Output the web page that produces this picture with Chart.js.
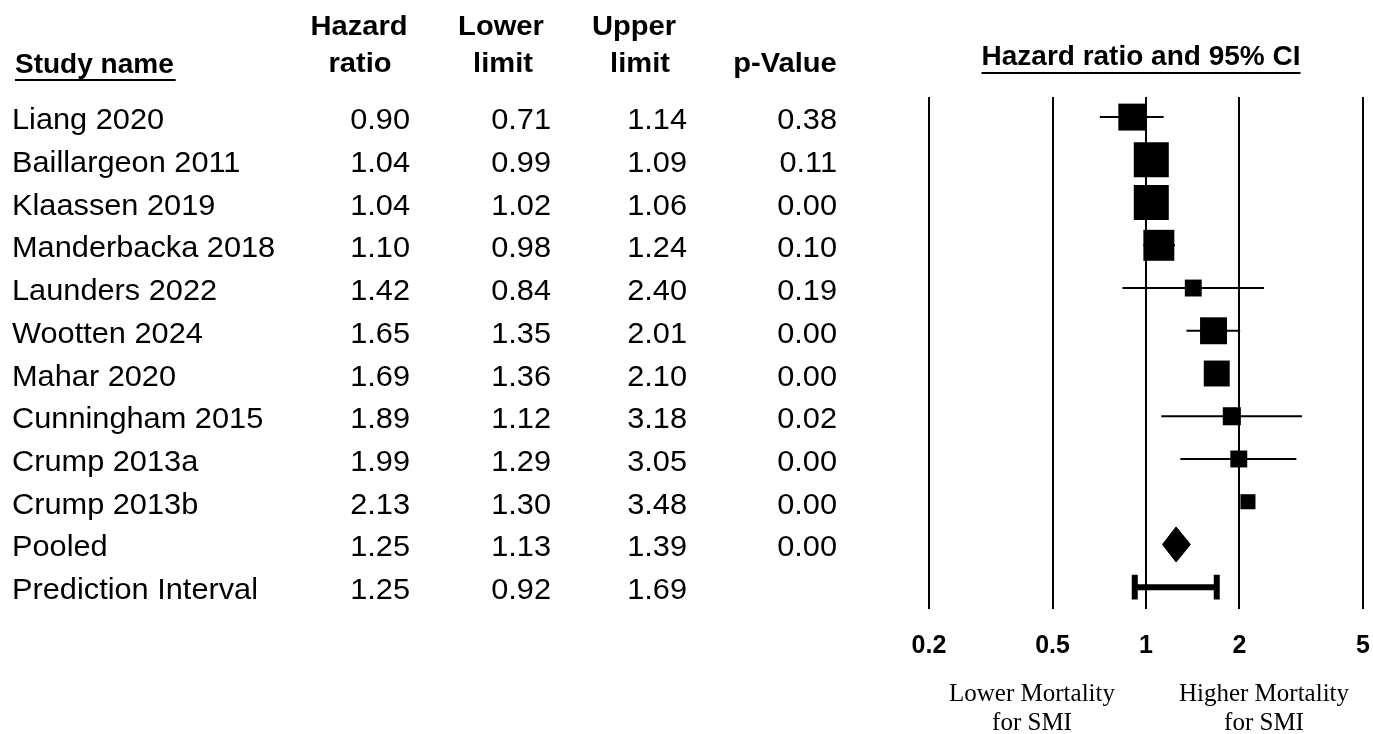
<!DOCTYPE html>
<html>
<head>
<meta charset="utf-8">
<title>Hazard ratio and 95% CI</title>
<script src="https://cdn.jsdelivr.net/npm/chart.js@4/dist/chart.umd.min.js"></script>
<style>
  html, body { margin: 0; padding: 0; background: #ffffff; overflow: hidden; }
  #wrap { position: relative; width: 1373px; height: 734px; overflow: hidden; }
  #forest { display: block; }
</style>
</head>
<body>
<div id="wrap"><canvas id="forest" width="1373" height="734"></canvas></div>
<script>
// Rows of the forest plot: ten studies, the pooled estimate and the prediction interval
const rowLabels = ['Liang 2020', 'Baillargeon 2011', 'Klaassen 2019', 'Manderbacka 2018',
  'Launders 2022', 'Wootten 2024', 'Mahar 2020', 'Cunningham 2015', 'Crump 2013a',
  'Crump 2013b', 'Pooled', 'Prediction Interval'];
const hazardRatio = [0.90, 1.04, 1.04, 1.10, 1.42, 1.65, 1.69, 1.89, 1.99, 2.13, 1.25, 1.25];
const lowerLimit  = [0.71, 0.99, 1.02, 0.98, 0.84, 1.35, 1.36, 1.12, 1.29, 1.30, 1.13, 0.92];
const upperLimit  = [1.14, 1.09, 1.06, 1.24, 2.40, 2.01, 2.10, 3.18, 3.05, 3.48, 1.39, 1.69];
const pValue      = [0.38, 0.11, 0.00, 0.10, 0.19, 0.00, 0.00, 0.02, 0.00, 0.00, 0.00, null];
// Relative study weights (%), shown as the area of each box
const studyWeight = [10.9, 18.4, 18.4, 14.4, 4.3, 10.9, 10.1, 4.9, 4.3, 3.4];
// Studies whose confidence-interval whisker is drawn
const whiskerDrawn = [true, true, true, true, true, true, false, true, true, false];
const axisTicks = [0.2, 0.5, 1, 2, 5];

const STUDY_COUNT = studyWeight.length;
const POOLED_ROW = 10;
const PI_ROW = 11;
const MAX_BOX = 35;                 // px side of the heaviest study's box
const maxWeight = Math.max(...studyWeight);
const SANS = '"Liberation Sans", Arial, sans-serif';
const SERIF = '"Liberation Serif", "Times New Roman", serif';

const datasets = [];

// study boxes
datasets.push({
  data: hazardRatio.slice(0, STUDY_COUNT).map((v, i) => ({ x: v, y: i })),
  pointStyle: 'rect',
  pointRadius: studyWeight.map(w => MAX_BOX * Math.sqrt(w / maxWeight) / Math.SQRT2),
  pointBackgroundColor: '#000',
  pointBorderWidth: 0,
  showLine: false,
  order: 0
});

// confidence-interval whiskers
for (let i = 0; i < STUDY_COUNT; i++) {
  if (!whiskerDrawn[i]) continue;
  datasets.push({
    data: [{ x: lowerLimit[i], y: i }, { x: upperLimit[i], y: i }],
    showLine: true, borderColor: '#000', borderWidth: 2, pointRadius: 0, order: 2
  });
}

// pooled estimate diamond (upper half filled down to lower half)
const DIAMOND_HALF = 0.41;
datasets.push({
  data: [{ x: lowerLimit[POOLED_ROW], y: POOLED_ROW },
         { x: hazardRatio[POOLED_ROW], y: POOLED_ROW - DIAMOND_HALF },
         { x: upperLimit[POOLED_ROW], y: POOLED_ROW }],
  showLine: true, borderColor: '#000', borderWidth: 1, pointRadius: 0,
  fill: '+1', backgroundColor: '#000', order: 1
});
datasets.push({
  data: [{ x: lowerLimit[POOLED_ROW], y: POOLED_ROW },
         { x: hazardRatio[POOLED_ROW], y: POOLED_ROW + DIAMOND_HALF },
         { x: upperLimit[POOLED_ROW], y: POOLED_ROW }],
  showLine: true, borderColor: '#000', borderWidth: 1, pointRadius: 0, fill: false, order: 1
});

// prediction interval bar with end caps
const CAP_HALF = 0.29;
datasets.push({
  data: [{ x: lowerLimit[PI_ROW], y: PI_ROW }, { x: upperLimit[PI_ROW], y: PI_ROW }],
  showLine: true, borderColor: '#000', borderWidth: 6, pointRadius: 0, order: 1
});
[lowerLimit[PI_ROW], upperLimit[PI_ROW]].forEach(v => {
  datasets.push({
    data: [{ x: v, y: PI_ROW - CAP_HALF }, { x: v, y: PI_ROW + CAP_HALF }],
    showLine: true, borderColor: '#000', borderWidth: 6, pointRadius: 0, order: 1
  });
});

// draws text with a slight horizontal stretch (table body is set wide)
function wideText(ctx, text, x, y, align, stretch) {
  ctx.save();
  ctx.translate(x, y);
  ctx.scale(stretch, 1);
  ctx.textAlign = align;
  ctx.fillText(text, 0, 0);
  ctx.restore();
}

// table columns, headers and captions drawn around the plot area
const tablePlugin = {
  id: 'forestTable',
  afterDraw(chart) {
    const ctx = chart.ctx;
    const y = chart.scales.y;
    const fmt = v => (v === null ? '' : v.toFixed(2));
    ctx.save();
    ctx.fillStyle = '#000';
    ctx.strokeStyle = '#000';

    // headers
    ctx.font = 'bold 28px ' + SANS;
    ctx.textBaseline = 'alphabetic';
    ctx.textAlign = 'left';
    ctx.fillText('Study name', 15, 73);
    const snW = ctx.measureText('Study name').width;
    ctx.lineWidth = 2;
    ctx.beginPath(); ctx.moveTo(15, 80); ctx.lineTo(15 + snW + 2, 80); ctx.stroke();

    const HS = 1.04;
    wideText(ctx, 'Hazard', 359, 35, 'center', HS);
    wideText(ctx, 'ratio', 360, 72, 'center', HS);
    wideText(ctx, 'Lower', 501, 35, 'center', HS);
    wideText(ctx, 'limit', 503, 72, 'center', HS);
    wideText(ctx, 'Upper', 634, 35, 'center', HS);
    wideText(ctx, 'limit', 640, 72, 'center', HS);
    wideText(ctx, 'p-Value', 785, 72, 'center', HS);

    const title = 'Hazard ratio and 95% CI';
    const tx = 1141;
    ctx.textAlign = 'center';
    ctx.fillText(title, tx, 65);
    const tW = ctx.measureText(title).width;
    ctx.beginPath(); ctx.moveTo(tx - tW / 2, 73); ctx.lineTo(tx + tW / 2, 73); ctx.stroke();

    // rows
    const RS = 1.06;
    ctx.font = '29px ' + SANS;
    rowLabels.forEach((label, i) => {
      const py = y.getPixelForValue(i) + 12;
      wideText(ctx, label, 12, py, 'left', RS);
      wideText(ctx, fmt(hazardRatio[i]), 410, py, 'right', RS);
      wideText(ctx, fmt(lowerLimit[i]), 551, py, 'right', RS);
      wideText(ctx, fmt(upperLimit[i]), 687, py, 'right', RS);
      wideText(ctx, fmt(pValue[i]), 837, py, 'right', RS);
    });

    // direction captions
    ctx.font = '25px ' + SERIF;
    ctx.textAlign = 'center';
    ctx.fillText('Lower Mortality', 1032, 701);
    ctx.fillText('for SMI', 1032, 730);
    ctx.fillText('Higher Mortality', 1264, 701);
    ctx.fillText('for SMI', 1264, 730);
    ctx.restore();
  }
};

new Chart(document.getElementById('forest'), {
  type: 'scatter',
  data: { datasets },
  options: {
    responsive: false,
    devicePixelRatio: 1,
    animation: false,
    events: [],
    layout: { autoPadding: false, padding: { left: 929, right: 10, top: 97, bottom: 75 } },
    plugins: { legend: { display: false }, tooltip: { enabled: false } },
    scales: {
      x: {
        type: 'logarithmic',
        min: axisTicks[0],
        max: axisTicks[axisTicks.length - 1],
        afterBuildTicks: axis => { axis.ticks = axisTicks.map(v => ({ value: v })); },
        afterFit: axis => { axis.paddingLeft = 0; axis.paddingRight = 0; axis.height = 50; },
        ticks: {
          autoSkip: false,
          maxRotation: 0,
          padding: 22,
          color: '#000',
          font: { family: SANS, size: 25, weight: 'bold' },
          callback: v => String(v)
        },
        grid: { color: '#000', lineWidth: 2, drawTicks: false },
        border: { display: false }
      },
      y: {
        type: 'linear',
        display: false,
        reverse: true,
        min: -0.47,
        max: 11.51
      }
    }
  },
  plugins: [tablePlugin]
});
</script>
</body>
</html>
